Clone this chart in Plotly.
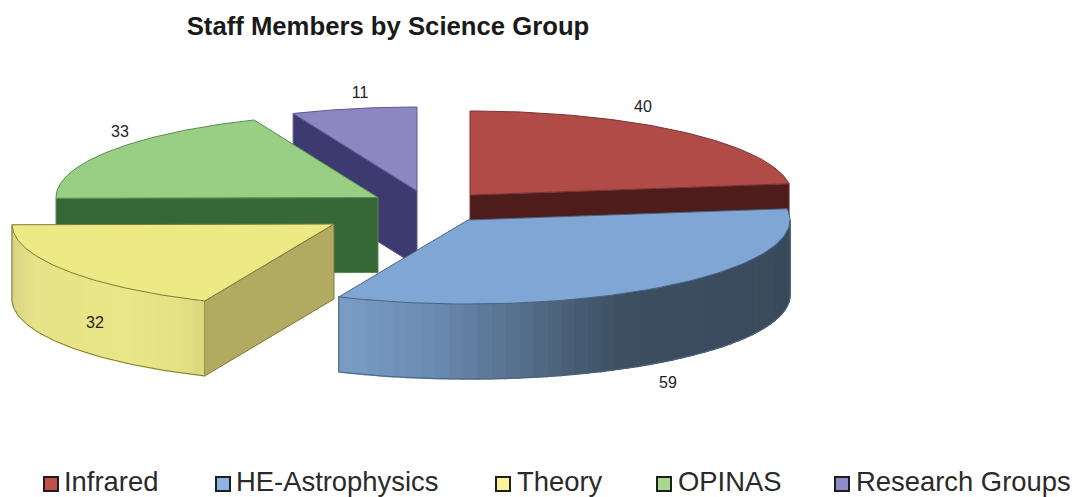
import math
import plotly.graph_objects as go

# ---- data ----
categories = ["Infrared", "HE-Astrophysics", "Theory", "OPINAS", "Research Groups"]
staff = [40, 59, 32, 33, 11]
title_text = "Staff Members by Science Group"

# ---- pie geometry (pixel scale of the hidden axes) ----
CX, CY = 433, 207
RX, RY, DEPTH = 322, 84, 75
OFFSET_X = [37, 35, -99, -55, -16]     # explosion of each slice from the pie centre
OFFSET_Y = [-12, 13, 17, -9.5, -16]

# ---- styles ----
top_colors = ["#B04B48", "#7FA6D5", "#EDEA85", "#98CF85", "#8C86C1"]
radial_colors = ["#4F1C1C", "#3A4B5C", "#B0AB60", "#366736", "#3C3A70"]
edge_colors = ["#7A3533", "#4A6480", "#7C7A3C", "#5E8A50", "#5C5A90"]
legend_colors = ["#C0504D", "#8EB4E3", "#FBF39A", "#A6D78C", "#8E8CC6"]
label_x = [643, 668, 95, 120, 360]
label_y = [108, 384, 324, 133, 94]
legend_marker_x = [51, 223, 503, 664, 842]
legend_text_x = [64, 236, 517, 678, 856]
LEGEND_Y = 484

# wall shading stops: (fraction across the visible wall, colour)
he_stops = [(0.0, "#7A9DC6"), (0.2, "#6B8CB2"), (0.38, "#58728F"), (0.62, "#3D4F62"), (1.0, "#394A5B")]
th_stops = [(0.0, "#D8D585"), (0.12, "#E6E388"), (0.6, "#E9E687"), (0.88, "#E4E183"), (1.0, "#D8D47C")]


def hex2rgb(h):
    return tuple(int(h[i:i + 2], 16) for i in (1, 3, 5))


def shade(stops, f):
    for (a, ca), (b, cb) in zip(stops, stops[1:]):
        if f <= b:
            t = (f - a) / (b - a)
            ra, rb = hex2rgb(ca), hex2rgb(cb)
            return "rgb(%d,%d,%d)" % tuple(round(p + (q - p) * t) for p, q in zip(ra, rb))
    return stops[-1][1]


def rim(ax, ay, deg):
    r = math.radians(deg)
    return ax + RX * math.sin(r), ay - RY * math.cos(r)


def arc(ax, ay, a0, a1, n):
    pts = [rim(ax, ay, a0 + (a1 - a0) * i / n) for i in range(n + 1)]
    return [p[0] for p in pts], [p[1] for p in pts]


fig = go.Figure()


def poly(xs, ys, fill, line=None, w=1):
    fig.add_trace(go.Scatter(
        x=xs + xs[:1], y=ys + ys[:1], mode="lines", fill="toself", fillcolor=fill,
        line=dict(color=line or fill, width=w), hoverinfo="skip", showlegend=False))


def path(xs, ys, color, w=1):
    fig.add_trace(go.Scatter(x=xs, y=ys, mode="lines", line=dict(color=color, width=w),
                             hoverinfo="skip", showlegend=False))


total = sum(staff)
spans = []
acc = 0
for v in staff:
    spans.append((acc * 360 / total, (acc + v) * 360 / total))
    acc += v

# which radial face of each slice is turned to the viewer
visible_radial = {0: 1, 2: 0, 3: 0, 4: 0}

# painter's order, back to front
for i in [4, 3, 2, 0, 1]:
    a0, a1 = spans[i]
    ax, ay = CX + OFFSET_X[i], CY + OFFSET_Y[i]
    edge = edge_colors[i]

    # radial wall facing the viewer
    if i in visible_radial:
        px, py = rim(ax, ay, spans[i][visible_radial[i]])
        poly([ax, px, px, ax], [ay, py, py + DEPTH, ay + DEPTH], radial_colors[i], edge)

    # outer curved wall (only the part turned to the viewer)
    w0, w1 = max(a0, 90), min(a1, 270)
    stops = he_stops if i == 1 else th_stops if i == 2 else None
    if w1 > w0 and stops:
        n = max(int((w1 - w0) / 2.5), 1)
        xl, _ = rim(ax, ay, w1)
        xr, _ = rim(ax, ay, w0)
        for k in range(n):
            d0 = w0 + (w1 - w0) * k / n
            d1 = w0 + (w1 - w0) * (k + 1) / n
            x0, y0 = rim(ax, ay, d0)
            x1, y1 = rim(ax, ay, d1)
            f = (0.5 * (x0 + x1) - xl) / (xr - xl)
            poly([x0, x1, x1, x0], [y0, y1, y1 + DEPTH, y0 + DEPTH], shade(stops, f), w=1.5)
        xs, ys = arc(ax, ay, w0, w1, 80)
        path(xs, [y + DEPTH for y in ys], edge)
        path([xs[0], xs[0]], [ys[0], ys[0] + DEPTH], edge)
        path([xs[-1], xs[-1]], [ys[-1], ys[-1] + DEPTH], edge)

    # top face
    xs, ys = arc(ax, ay, a0, a1, 80)
    poly([ax] + xs, [ay] + ys, top_colors[i], edge)

# value labels
fig.add_trace(go.Scatter(
    x=label_x, y=label_y, mode="text", text=[str(v) for v in staff],
    textfont=dict(family="Liberation Sans, Arial, sans-serif", size=16, color="#222222"),
    hoverinfo="skip", showlegend=False))

# legend row
fig.add_trace(go.Scatter(
    x=legend_marker_x, y=[LEGEND_Y] * 5, mode="markers",
    marker=dict(symbol="square", size=14, color=legend_colors, line=dict(color="#1E1E1E", width=2)),
    hoverinfo="skip", showlegend=False))
fig.add_trace(go.Scatter(
    x=legend_text_x, y=[LEGEND_Y] * 5, mode="text", text=categories, textposition="middle right",
    textfont=dict(family="Liberation Sans, Arial, sans-serif", size=27.4, color="#2A2A2A"),
    hoverinfo="skip", showlegend=False))

fig.update_layout(
    width=1080, height=497, margin=dict(l=0, r=0, t=0, b=0),
    paper_bgcolor="white", plot_bgcolor="white", showlegend=False,
    title=dict(text="<b>" + title_text + "</b>", x=388 / 1080, xanchor="center",
               y=1 - 26 / 497, yanchor="middle",
               font=dict(family="Liberation Sans, Arial, sans-serif", size=25.7, color="#1A1A1A")),
    xaxis=dict(range=[0, 1080], visible=False, fixedrange=True),
    yaxis=dict(range=[497, 0], visible=False, fixedrange=True),
)

fig.write_html("out.html", config={"displayModeBar": False},
               post_script="document.body.style.margin='0';document.documentElement.style.overflow='hidden';")
